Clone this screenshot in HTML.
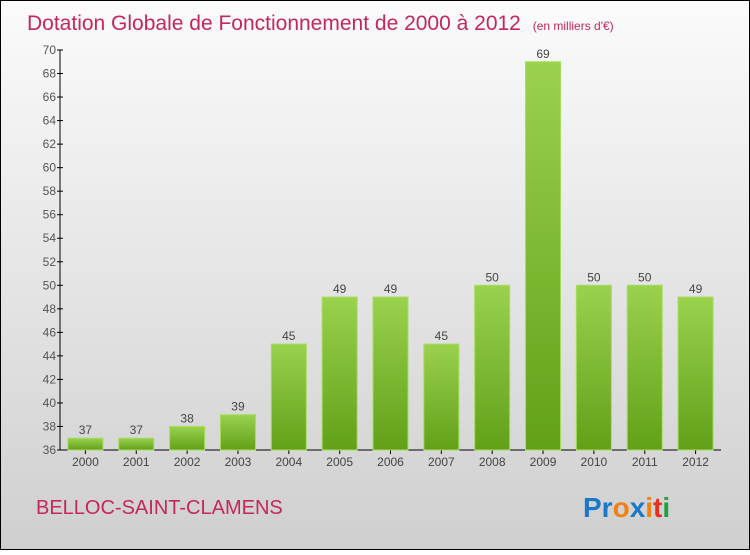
<!DOCTYPE html>
<html><head><meta charset="utf-8"><style>
html,body{margin:0;padding:0}
body{width:750px;height:550px;overflow:hidden;font-family:"Liberation Sans",sans-serif}
</style></head><body>
<svg id="chart" width="750" height="550" xmlns="http://www.w3.org/2000/svg">
<defs>
<linearGradient id="bg" x1="0" y1="0" x2="0" y2="1"><stop offset="0" stop-color="#fbfbfb"/><stop offset="1" stop-color="#cfcfcf"/></linearGradient>
<linearGradient id="bar" x1="0" y1="0" x2="0" y2="1"><stop offset="0" stop-color="#9ad24e"/><stop offset="1" stop-color="#62a018"/></linearGradient>
</defs>
<rect x="0.5" y="0.5" width="749" height="549" fill="url(#bg)" stroke="#000"/>
<text x="27" y="30" font-size="21" fill="#c4275a">Dotation Globale de Fonctionnement de 2000 à 2012 <tspan font-size="12" dx="6">(en milliers d'€)</tspan></text>
<text x="36" y="514" font-size="20" fill="#c4275a">BELLOC-SAINT-CLAMENS</text>
<g font-size="28" font-weight="bold" font-family="'Liberation Sans',sans-serif">
<text x="583" y="517"><tspan fill="#1a78c8">Pr</tspan><tspan fill="#f08010">o</tspan><tspan fill="#1a78c8">x</tspan><tspan fill="#f08010">i</tspan><tspan fill="#e83020">t</tspan><tspan fill="#20a040">i</tspan></text>
</g>
<g id="axes"></g>
<g id="bars"></g>
</svg>
<script>
const categories=["2000","2001","2002","2003","2004","2005","2006","2007","2008","2009","2010","2011","2012"];
const values=[37,37,38,39,45,49,49,45,50,69,50,50,49];
const yTicks=[36,38,40,42,44,46,48,50,52,54,56,58,60,62,64,66,68,70];
const NS="http://www.w3.org/2000/svg";
const x0=60,x1=721,yB=450,yT=50,yMin=36,yMax=70;
const step=(x1-x0)/categories.length;
function y(v){return yB-(v-yMin)/(yMax-yMin)*(yB-yT);}
function xc(i){return x0+step*(i+0.5);}
function mk(tag,attrs,parent,txt){const e=document.createElementNS(NS,tag);for(const k in attrs)e.setAttribute(k,attrs[k]);if(txt!==undefined)e.textContent=txt;parent.appendChild(e);return e;}
const ax=document.getElementById('axes'),bg=document.getElementById('bars');
let l=mk('line',{x1:x0,y1:yT,x2:x0,y2:yB,stroke:'#000'},ax);


l=mk('line',{x1:x0,y1:yB,x2:x1,y2:yB,stroke:'#000'},ax);


yTicks.forEach(t=>{
 const tk=mk('line',{x1:x0-3,y1:y(t),x2:x0+3,y2:y(t),stroke:'#000'},ax);
 
 
 const tl=mk('text',{x:x0-4,y:y(t)+4,'font-size':12,fill:'#555','text-anchor':'end'},ax,t);
 
 
});
categories.forEach((c,i)=>{
 const cx=xc(i),w=35,v=values[i];
 const tk=mk('line',{x1:cx,y1:yB,x2:cx,y2:yB+4,stroke:'#000'},ax);
 
 
 const xl=mk('text',{x:cx,y:yB+16,'font-size':12,fill:'#444','text-anchor':'middle'},ax,c);
 
 
 const r=mk('rect',{x:cx-w/2,y:y(v),width:w,height:yB-y(v),fill:'url(#bar)',stroke:'#a6dc60','stroke-width':1},bg);
 
 
 const vl=mk('text',{x:cx,y:y(v)-4,'font-size':12,fill:'#444','text-anchor':'middle'},bg,v);
 
 
});
</script>
</body></html>
